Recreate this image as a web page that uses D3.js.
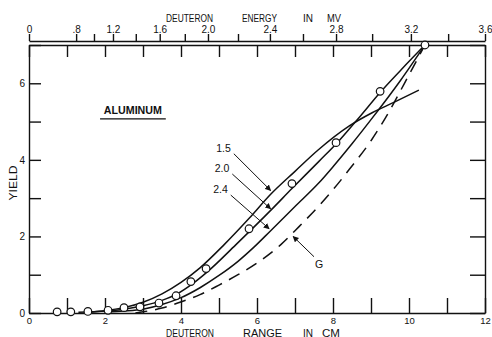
<!DOCTYPE html>
<html>
<head>
<meta charset="utf-8">
<script src="https://cdn.jsdelivr.net/npm/d3@7"></script>
<style>
  body { margin: 0; background: #fff; }
  svg text { font-family: "Liberation Sans", Arial, sans-serif; fill: #111; }
  .axis path, .axis line { stroke: #111; stroke-width: 1.4; }
</style>
</head>
<body>
<svg id="svg" width="492" height="337"></svg>
<script>
// 飛程 (cm) と収量の目盛
const rangeTicks = [0, 1, 2, 3, 4, 5, 6, 7, 8, 9, 10, 11, 12];
const rangeLabels = [0, 2, 4, 6, 8, 10, 12];
const yieldTicks = [0, 1, 2, 3, 4, 5, 6, 7];
const yieldLabels = [0, 2, 4, 6];

// 上側のエネルギー目盛 (MV) と、それに対応する飛程 (cm)
const energyTicks = [0, 0.8, 1.0, 1.2, 1.4, 1.6, 1.8, 2.0, 2.2, 2.4, 2.6, 2.8, 3.0, 3.2, 3.4, 3.6];
const energyAtRange = [0, 1.24, 1.71, 2.21, 2.81, 3.44, 4.1, 4.71, 5.5, 6.34, 7.21, 8.08, 9.03, 10.05, 11.03, 12.0];
const energyLabels = ["0", ".8", "", "1.2", "", "1.6", "", "2.0", "", "2.4", "", "2.8", "", "3.2", "", "3.6"];

// 測定点
const pointRange = [0.74, 1.1, 1.55, 2.08, 2.5, 2.92, 3.42, 3.87, 4.26, 4.66, 5.79, 6.92, 8.08, 9.24, 10.42];
const pointYield = [0.03, 0.03, 0.04, 0.07, 0.14, 0.16, 0.26, 0.45, 0.82, 1.16, 2.2, 3.38, 4.45, 5.79, 7.0];

// 計算曲線
const curve15Range = [1.5, 2.0, 2.5, 3.0, 3.5, 4.0, 4.5, 5.13, 5.8, 6.36, 7.0, 7.6, 8.42, 9.03, 9.6, 10.26];
const curve15Yield = [0.02, 0.06, 0.14, 0.28, 0.5, 0.8, 1.18, 1.78, 2.48, 3.1, 3.7, 4.25, 4.88, 5.23, 5.5, 5.82];
const curve20Range = [1.3, 2.0, 2.5, 3.0, 3.5, 3.9, 4.3, 4.7, 5.44, 6.36, 6.92, 7.63, 8.16, 8.7, 9.24, 9.8, 10.42];
const curve20Yield = [0.02, 0.05, 0.1, 0.19, 0.33, 0.5, 0.76, 1.08, 1.78, 2.68, 3.25, 3.96, 4.5, 5.12, 5.76, 6.36, 7.0];
const curve24Range = [2.0, 2.5, 3.0, 3.5, 4.0, 4.5, 5.0, 5.5, 5.92, 6.36, 7.0, 7.63, 8.0, 8.5, 9.0, 9.78, 10.42];
const curve24Yield = [0.02, 0.05, 0.1, 0.22, 0.4, 0.66, 0.98, 1.35, 1.72, 2.15, 2.78, 3.4, 3.82, 4.42, 5.05, 6.08, 7.0];
const curveGRange = [2.8, 3.0, 3.5, 4.03, 4.5, 5.0, 5.5, 6.05, 6.62, 7.1, 7.63, 8.0, 8.42, 9.0, 9.5, 9.87, 10.42];
const curveGYield = [0.0, 0.03, 0.13, 0.3, 0.48, 0.73, 1.0, 1.34, 1.78, 2.25, 2.8, 3.22, 3.74, 4.5, 5.3, 5.98, 7.0];

// 曲線の名前と矢印 (ラベル側の端と先端, データ座標)
const curveNames = ["1.5", "2.0", "2.4", "G"];
const arrowFrom = [[5.39, 4.16], [5.35, 3.63], [5.31, 3.08], [7.5, 1.47]];
const arrowTo = [[6.36, 3.2], [6.36, 2.72], [6.32, 2.2], [6.95, 2.0]];

const svg = d3.select("#svg");
const x = d3.scaleLinear().domain([0, 12]).range([29, 485]);
const y = d3.scaleLinear().domain([0, 7]).range([313, 45]);
const energy = d3.scaleLinear().domain(energyTicks).range(energyAtRange.map(x));

//矢印の先端
svg.append("defs")
  .append("marker")
  .attr("id", "head")
  .attr("viewBox", "0 0 10 10")
  .attr("refX", 9)
  .attr("refY", 5)
  .attr("markerWidth", 6)
  .attr("markerHeight", 6)
  .attr("markerUnits", "userSpaceOnUse")
  .attr("orient", "auto")
  .append("path")
  .attr("d", "M0 0 L10 5 L0 10 z")
  .attr("fill", "#111");

//軸
function styleAxis(g, fontSize) {
  g.attr("class", "axis");
  g.selectAll("text").attr("font-size", fontSize).attr("fill", "#111");
}

svg.append("g")
  .attr("transform", `translate(0,${y(0)})`)
  .call(d3.axisBottom(x).tickValues(rangeTicks).tickSizeInner(-15).tickSizeOuter(0).tickPadding(4)
    .tickFormat(d => rangeLabels.includes(d) ? d : ""))
  .call(g => styleAxis(g, 9.5));

svg.append("g")
  .attr("transform", `translate(0,${y(7)})`)
  .call(d3.axisTop(x).tickValues(rangeTicks).tickSizeInner(-12).tickSizeOuter(0).tickFormat(""))
  .call(g => styleAxis(g, 10));

svg.append("g")
  .attr("transform", `translate(${x(0)},0)`)
  .call(d3.axisLeft(y).tickValues(yieldTicks).tickSizeInner(-12).tickSizeOuter(0).tickPadding(4)
    .tickFormat(d => yieldLabels.includes(d) ? d : ""))
  .call(g => styleAxis(g, 10));

svg.append("g")
  .attr("transform", `translate(${x(12)},0)`)
  .call(d3.axisRight(y).tickValues(yieldTicks).tickSizeInner(-15).tickSizeOuter(0).tickFormat(""))
  .call(g => styleAxis(g, 10));

// エネルギー軸
svg.append("g")
  .attr("transform", `translate(0,${y(7) - 4})`)
  .call(d3.axisTop(energy).tickValues(energyTicks).tickSizeInner(7).tickSizeOuter(0).tickPadding(1)
    .tickFormat((d, i) => energyLabels[i]))
  .call(g => styleAxis(g, 10));

//軸タイトル
function word(str, px, py, len) {
  svg.append("text")
    .attr("x", px)
    .attr("y", py)
    .attr("font-size", 10)
    .attr("textLength", len)
    .attr("lengthAdjust", "spacingAndGlyphs")
    .text(str);
}
word("DEUTERON", 166, 22, 47);
word("ENERGY", 242, 22, 35);
word("IN", 303, 22, 10);
word("MV", 327, 22, 14);
word("DEUTERON", 166, 336.5, 48);
word("RANGE", 243, 336.5, 39);
word("IN", 303, 336.5, 10);
word("CM", 322, 336.5, 18);

svg.append("text")
  .attr("transform", "translate(17,183) rotate(-90)")
  .attr("text-anchor", "middle")
  .attr("font-size", 10.5)
  .attr("textLength", 35)
  .attr("lengthAdjust", "spacingAndGlyphs")
  .text("YIELD");

// ALUMINUM
svg.append("text")
  .attr("x", x(1.97))
  .attr("y", y(5.2))
  .attr("font-size", 10.5)
  .attr("font-weight", "bold")
  .attr("textLength", 58)
  .attr("lengthAdjust", "spacingAndGlyphs")
  .text("ALUMINUM");
svg.append("line")
  .attr("x1", x(1.87))
  .attr("x2", x(3.6))
  .attr("y1", y(5.2) + 5)
  .attr("y2", y(5.2) + 5)
  .attr("stroke", "#111")
  .attr("stroke-width", 1.4);

//曲線
const line = d3.line()
  .x(d => x(d[0]))
  .y(d => y(d[1]))
  .curve(d3.curveMonotoneX);

const curves = [
  [curve15Range, curve15Yield, null],
  [curve20Range, curve20Yield, null],
  [curve24Range, curve24Yield, null],
  [curveGRange, curveGYield, "12,8"],
];
curves.forEach(([xs, ys, dash]) => {
  svg.append("path")
    .datum(d3.zip(xs, ys))
    .attr("d", line)
    .attr("fill", "none")
    .attr("stroke", "#111")
    .attr("stroke-width", 1.5)
    .attr("stroke-dasharray", dash);
});

//矢印とラベル
curveNames.forEach((name, i) => {
  const [fx, fy] = arrowFrom[i];
  const [tx, ty] = arrowTo[i];
  svg.append("line")
    .attr("x1", x(fx))
    .attr("y1", y(fy))
    .attr("x2", x(tx))
    .attr("y2", y(ty))
    .attr("stroke", "#111")
    .attr("stroke-width", 1)
    .attr("marker-end", "url(#head)");
  const isG = name == "G";
  svg.append("text")
    .attr("x", isG ? x(fx) + 5 : x(fx) - 3)
    .attr("y", isG ? y(fy) + 11 : y(fy) - 2)
    .attr("text-anchor", isG ? "middle" : "end")
    .attr("font-size", 10.5)
    .text(name);
});

//測定点
svg.append("g")
  .selectAll("circle")
  .data(d3.zip(pointRange, pointYield))
  .join("circle")
  .attr("cx", d => x(d[0]))
  .attr("cy", d => y(d[1]))
  .attr("r", 3.8)
  .attr("fill", "#fff")
  .attr("stroke", "#111")
  .attr("stroke-width", 1.2);
</script>
</body>
</html>
